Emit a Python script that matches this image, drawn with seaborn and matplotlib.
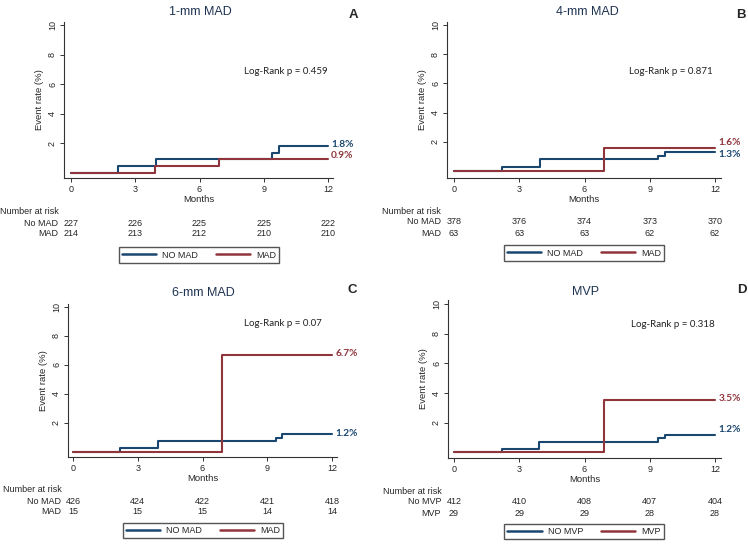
import numpy as np
import pandas as pd
import matplotlib
matplotlib.use("Agg")
import matplotlib.pyplot as plt
import matplotlib.transforms as mtransforms
from matplotlib.lines import Line2D
import seaborn as sns

BLUE = "#1a476f"
RED = "#90353b"
TITLE_COL = "#1f3352"

months = [0, 3, 6, 9, 12]

# A - 1-mm MAD
a_t_no = [0, 2.2, 3.95, 9.4, 9.7, 12]
a_r_no = [0, 0.45, 0.9, 1.35, 1.8, 1.8]
a_t_yes = [0, 3.9, 6.9, 12]
a_r_yes = [0, 0.47, 0.93, 0.93]
a_risk_no = [227, 226, 225, 225, 222]
a_risk_yes = [214, 213, 212, 210, 210]

# B - 4-mm MAD
b_t_no = [0, 2.2, 3.95, 9.4, 9.7, 12]
b_r_no = [0, 0.27, 0.8, 1.05, 1.3, 1.3]
b_t_yes = [0, 6.9, 12]
b_r_yes = [0, 1.6, 1.6]
b_risk_no = [378, 376, 374, 373, 370]
b_risk_yes = [63, 63, 63, 62, 62]

# C - 6-mm MAD
c_t_no = [0, 2.2, 3.95, 9.4, 9.7, 12]
c_r_no = [0, 0.24, 0.71, 0.95, 1.2, 1.2]
c_t_yes = [0, 6.9, 12]
c_r_yes = [0, 6.7, 6.7]
c_risk_no = [426, 424, 422, 421, 418]
c_risk_yes = [15, 15, 15, 14, 14]

# D - MVP
d_t_no = [0, 2.2, 3.9, 9.4, 9.7, 12]
d_r_no = [0, 0.24, 0.73, 0.97, 1.2, 1.2]
d_t_yes = [0, 6.9, 12]
d_r_yes = [0, 3.5, 3.5]
d_risk_no = [412, 410, 408, 407, 404]
d_risk_yes = [29, 29, 29, 28, 28]

panels = [
    dict(title="1-mm MAD", tag="A", p="0.459", grp=("No MAD", "MAD"), leg=("NO MAD", "MAD"),
         t_no=a_t_no, r_no=a_r_no, t_yes=a_t_yes, r_yes=a_r_yes,
         risk_no=a_risk_no, risk_yes=a_risk_yes,
         end_no="1.8%", end_yes="0.9%"),
    dict(title="4-mm MAD", tag="B", p="0.871", grp=("No MAD", "MAD"), leg=("NO MAD", "MAD"),
         t_no=b_t_no, r_no=b_r_no, t_yes=b_t_yes, r_yes=b_r_yes,
         risk_no=b_risk_no, risk_yes=b_risk_yes,
         end_no="1.3%", end_yes="1.6%"),
    dict(title="6-mm MAD", tag="C", p="0.07", grp=("No MAD", "MAD"), leg=("NO MAD", "MAD"),
         t_no=c_t_no, r_no=c_r_no, t_yes=c_t_yes, r_yes=c_r_yes,
         risk_no=c_risk_no, risk_yes=c_risk_yes,
         end_no="1.2%", end_yes="6.7%"),
    dict(title="MVP", tag="D", p="0.318", grp=("No MVP", "MVP"), leg=("NO MVP", "MVP"),
         t_no=d_t_no, r_no=d_r_no, t_yes=d_t_yes, r_yes=d_r_yes,
         risk_no=d_risk_no, risk_yes=d_risk_yes,
         end_no="1.2%", end_yes="3.5%"),
]

# layout in image pixels (748 x 545)
layout = [
    dict(ax=(64, 22, 333, 178), x0=71, x12=328, y0=172.5, y10=25,
         title=(200, 12), tag=(353, 15), risk_lab=(0, 211), row_x=58, rows=(223, 234),
         leg=(120, 248, 278, 262), lr=(8.1, 6.85), end_no=1.93, end_yes=1.12),
    dict(ax=(447, 22, 721, 178), x0=454, x12=715, y0=171, y10=25,
         title=(587, 12), tag=(741, 15), risk_lab=(382, 211), row_x=441, rows=(222, 233),
         leg=(502, 246, 666, 260), lr=(8.06, 6.8), end_no=1.1, end_yes=1.94),
    dict(ax=(68, 304, 337, 457), x0=73, x12=332, y0=451.6, y10=307,
         title=(203, 293), tag=(352, 290), risk_lab=(3, 490), row_x=61, rows=(501, 511.5),
         leg=(123, 523, 283, 538), lr=(7.94, 8.85), end_no=1.28, end_yes=6.75),
    dict(ax=(448, 300, 721, 458), x0=454, x12=715, y0=452.4, y10=304,
         title=(586, 292), tag=(742, 290), risk_lab=(383, 491), row_x=441, rows=(502, 513),
         leg=(502, 524, 666, 539), lr=(8.13, 8.65), end_no=1.53, end_yes=3.6),
]

sns.set_style("ticks")
plt.rcParams["font.family"] = ["Liberation Sans", "DejaVu Sans"]

W, H = 748, 545
fig = plt.figure(figsize=(W / 100, H / 100), dpi=100)


def fx(x):
    return x / W


def fy(y):
    return 1 - y / H


for pan, lay in zip(panels, layout):
    l, t, r, b = lay["ax"]
    ax = fig.add_axes([fx(l), fy(b), (r - l) / W, (b - t) / H])

    sx = (lay["x12"] - lay["x0"]) / 12
    sy = (lay["y0"] - lay["y10"]) / 10
    ax.set_xlim((l - lay["x0"]) / sx, (r - lay["x0"]) / sx)
    ax.set_ylim((lay["y0"] - b) / sy, (lay["y0"] - t) / sy)

    df = pd.concat([
        pd.DataFrame({"time": pan["t_no"], "rate": pan["r_no"], "group": pan["grp"][0]}),
        pd.DataFrame({"time": pan["t_yes"], "rate": pan["r_yes"], "group": pan["grp"][1]}),
    ])
    sns.lineplot(data=df, x="time", y="rate", hue="group",
                 palette={pan["grp"][0]: BLUE, pan["grp"][1]: RED},
                 estimator=None, sort=False, drawstyle="steps-post",
                 linewidth=1.5, legend=False, ax=ax)

    sns.despine(ax=ax)
    for s in ("left", "bottom"):
        ax.spines[s].set_color("#333333")
        ax.spines[s].set_linewidth(0.8)
    ax.set_xticks(months)
    ax.set_yticks([2, 4, 6, 8, 10])
    ax.tick_params(axis="both", labelsize=6.5, length=3, width=0.7, color="#333333", pad=2)
    for lab in ax.get_yticklabels():
        lab.set_rotation(90)
        lab.set_va("center")
    ax.set_xlabel("Months", fontsize=6.8, labelpad=1)
    ax.set_ylabel("Event rate (%)", fontsize=6.8, labelpad=3)

    ax.text(lay["lr"][0], lay["lr"][1], "Log-Rank p = " + pan["p"], fontsize=7,
            family=["Lato", "DejaVu Sans"], ha="left", va="center", color="#222222")
    ax.text(12.15, lay["end_no"], pan["end_no"], fontsize=7.3, fontweight="bold",
            family=["Lato", "DejaVu Sans"], color=BLUE, ha="left", va="center", clip_on=False)
    ax.text(12.15, lay["end_yes"], pan["end_yes"], fontsize=7.3, fontweight="bold",
            family=["Lato", "DejaVu Sans"], color=RED, ha="left", va="center", clip_on=False)

    fig.text(fx(lay["title"][0]), fy(lay["title"][1]), pan["title"], fontsize=9,
             color=TITLE_COL, ha="center", va="center")
    fig.text(fx(lay["tag"][0]), fy(lay["tag"][1]), pan["tag"], fontsize=9.5,
             fontweight="bold", ha="center", va="center")

    # number at risk table
    fig.text(fx(lay["risk_lab"][0]), fy(lay["risk_lab"][1]), "Number at risk",
             fontsize=6.5, ha="left", va="center")
    trans = mtransforms.blended_transform_factory(ax.transData, fig.transFigure)
    for row_y, name, vals in zip(lay["rows"], pan["grp"], (pan["risk_no"], pan["risk_yes"])):
        fig.text(fx(lay["row_x"]), fy(row_y), name, fontsize=6.5, ha="right", va="center")
        for m, v in zip(months, vals):
            ax.text(m, fy(row_y), str(v), transform=trans, fontsize=6.5,
                    ha="center", va="center", clip_on=False)

    # legend box
    x1, y1, x2, y2 = lay["leg"]
    handles = [Line2D([], [], color=BLUE, lw=1.8), Line2D([], [], color=RED, lw=1.8)]
    fig.legend(handles, list(pan["leg"]), loc="center",
               bbox_to_anchor=(fx((x1 + x2) / 2), fy((y1 + y2) / 2)),
               ncol=2, fontsize=6.5, handlelength=3.8,
               handletextpad=0.7, columnspacing=1.9, borderpad=0.35,
               borderaxespad=0, fancybox=False, framealpha=1, edgecolor="#555555")

fig.savefig("out.png", dpi=100)
